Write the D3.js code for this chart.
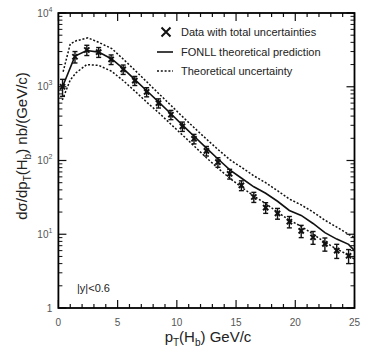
<!DOCTYPE html>
<html><head><meta charset="utf-8">
<script src="https://cdn.jsdelivr.net/npm/d3@7"></script>
<style>body{margin:0;background:#fff;} svg{display:block;font-family:"Liberation Sans",Arial,sans-serif;}</style>
</head><body>
<script>
// Data points (pT bin centre, cross section nb/(GeV/c), symmetric uncertainty)
const dataX = [0.35,1.4,2.4,3.4,4.45,5.47,6.45,7.45,8.45,9.5,10.47,11.45,12.5,13.47,14.46,15.45,16.5,17.5,18.5,19.5,20.5,21.5,22.5,23.5,24.5];
const dataY = [1000,2550,3150,2950,2350,1720,1210,850,600,418,290,197,135,95,66,46,32,23,19.2,14.8,11.1,9.1,7.4,6.0,5.1];
const dataErr = [260,450,500,450,350,250,170,120,85,60,42,29,20,14,10,7,5,3.8,3.2,2.6,2.1,1.8,1.5,1.3,1.1];

// FONLL central prediction
const fonllX = [0.35,1.4,2.4,3.4,4.5,5.5,6.5,7.5,8.5,9.5,10.5,11.5,12.5,13.5,14.5,15.5,16.5,17.5,18.5,19.5,20.5,21.5,22.5,23.5,24.5,25];
const fonllY = [1000,2600,3100,2950,2380,1750,1230,870,615,430,300,210,147,104,74,57,44,36,28,21,18,14,10.5,8.6,7.3,6];

// Theoretical uncertainty band (upper / lower)
const upperX = [0.4,1.0,1.5,2.5,3.4,4.5,5.5,6.5,7.5,8.5,9.5,10.5,11.5,12.5,13.5,14.5,15.5,16.5,17.5,18.5,19.5,20.5,21.5,22.5,23.5,24.5,25];
const upperY = [1600,3800,4200,4600,4000,3300,2350,1650,1150,800,560,390,275,195,140,102,80,62,50,39,30,25,20,15.5,12.5,10,9];
const lowerX = [0.33,1.0,1.5,2.4,3.4,4.5,5.5,6.5,7.5,8.5,9.5,10.5,11.5,12.5,13.5,14.5,15.5,16.5,17.5,18.5,19.5,20.5,21.5,22.5,23.5,24.5,25];
const lowerY = [660,1235,1550,2000,1950,1620,1200,860,610,440,310,220,155,109,78,57,43,33,26,20,15.5,12.8,10,7.8,6.3,5.2,4.6];

const xTicks = [0,5,10,15,20,25];
const yDecades = [1,10,100,1000,10000];
const yExponents = ["", "1", "2", "3", "4"];
const legendLabels = ["Data with total uncertainties","FONLL theoretical prediction","Theoretical uncertainty"];

const W = 381, H = 353;
const m = {l:58.4, r:354.5, t:13, b:308};
const svg = d3.select("body").append("svg").attr("width",W).attr("height",H);

const x = d3.scaleLinear().domain([0,25]).range([m.l,m.r]);
const y = d3.scaleLog().domain([1,10000]).range([m.b,m.t]);

// minor/major ticks
const xMinor = d3.range(0,26,1);
const yMinor = [];
yDecades.slice(0,4).forEach(d=>{for(let k=2;k<=9;k++) yMinor.push(d*k);});

const g = svg.append("g");
const tickCol = "#111";
xMinor.forEach(v=>{
  const len = (v%5===0)?8:4;
  g.append("line").attr("x1",x(v)).attr("x2",x(v)).attr("y1",m.b).attr("y2",m.b-len).attr("stroke",tickCol).attr("stroke-width",1.2);
  g.append("line").attr("x1",x(v)).attr("x2",x(v)).attr("y1",m.t).attr("y2",m.t+len).attr("stroke",tickCol).attr("stroke-width",1.2);
});
yDecades.forEach(v=>{
  g.append("line").attr("x1",m.l).attr("x2",m.l+8).attr("y1",y(v)).attr("y2",y(v)).attr("stroke",tickCol).attr("stroke-width",1.2);
  g.append("line").attr("x1",m.r).attr("x2",m.r-8).attr("y1",y(v)).attr("y2",y(v)).attr("stroke",tickCol).attr("stroke-width",1.2);
});
yMinor.forEach(v=>{
  g.append("line").attr("x1",m.l).attr("x2",m.l+4).attr("y1",y(v)).attr("y2",y(v)).attr("stroke",tickCol).attr("stroke-width",1);
  g.append("line").attr("x1",m.r).attr("x2",m.r-4).attr("y1",y(v)).attr("y2",y(v)).attr("stroke",tickCol).attr("stroke-width",1);
});
svg.append("rect").attr("x",m.l).attr("y",m.t).attr("width",m.r-m.l).attr("height",m.b-m.t)
  .attr("fill","none").attr("stroke","#000").attr("stroke-width",1.8);

const lblCol = "#555";
xTicks.forEach(v=>{
  svg.append("text").attr("x",x(v)).attr("y",m.b+18).attr("text-anchor","middle")
    .attr("font-size",10).attr("fill",lblCol).text(v);
});
yDecades.forEach((v,i)=>{
  const t = svg.append("text").attr("x",m.l-6).attr("y",y(v)+3.5).attr("text-anchor","end")
    .attr("font-size",10).attr("fill",lblCol);
  if(i===0){ t.text("1"); }
  else {
    t.append("tspan").text("10");
    t.append("tspan").attr("dy",-5).attr("font-size",7).text(yExponents[i]);
  }
});

const lineGen = (xs,ys)=> d3.line().x((d,i)=>x(xs[i])).y((d,i)=>y(ys[i]))(ys);
svg.append("path").attr("d",lineGen(upperX,upperY)).attr("fill","none").attr("stroke","#111").attr("stroke-width",1.5).attr("stroke-dasharray","2,1.8");
svg.append("path").attr("d",lineGen(lowerX,lowerY)).attr("fill","none").attr("stroke","#111").attr("stroke-width",1.5).attr("stroke-dasharray","2,1.8");
svg.append("path").attr("d",lineGen(fonllX,fonllY)).attr("fill","none").attr("stroke","#111").attr("stroke-width",1.6);

const pts = svg.append("g");
dataX.forEach((xv,i)=>{
  const cx = x(xv), yv = dataY[i], e = dataErr[i];
  const y1 = y(yv+e), y2 = y(yv-e), cy = y(yv);
  pts.append("line").attr("x1",cx).attr("x2",cx).attr("y1",y1).attr("y2",y2).attr("stroke","#111").attr("stroke-width",1.4);
  [y1,y2].forEach(yy=>pts.append("line").attr("x1",cx-2.5).attr("x2",cx+2.5).attr("y1",yy).attr("y2",yy).attr("stroke","#111").attr("stroke-width",1.4));
  const s=2.6;
  pts.append("path").attr("d",`M${cx-s},${cy-s}L${cx+s},${cy+s}M${cx-s},${cy+s}L${cx+s},${cy-s}`).attr("stroke","#111").attr("stroke-width",2);
});

const lg = svg.append("g");
const lx0 = 157, lx1 = 173, ltx = 181;
const ly = [32, 52, 71];
{ const cx=(lx0+lx1)/2+1, cy=ly[0], s=4.5;
  lg.append("path").attr("d",`M${cx-s},${cy-s}L${cx+s},${cy+s}M${cx-s},${cy+s}L${cx+s},${cy-s}`).attr("stroke","#111").attr("stroke-width",2); }
lg.append("line").attr("x1",lx0).attr("x2",lx1).attr("y1",ly[1]).attr("y2",ly[1]).attr("stroke","#111").attr("stroke-width",1.6);
lg.append("line").attr("x1",lx0).attr("x2",lx1).attr("y1",ly[2]).attr("y2",ly[2]).attr("stroke","#111").attr("stroke-width",1.6).attr("stroke-dasharray","2,1.8");
legendLabels.forEach((t,i)=>{
  lg.append("text").attr("x",ltx).attr("y",ly[i]+4).attr("font-size",11).attr("fill","#222").text(t);
});

svg.append("text").attr("x",77).attr("y",292).attr("font-size",11).attr("fill","#222").text("|y|<0.6");

const xt = svg.append("text").attr("x",208).attr("y",342).attr("text-anchor","middle").attr("font-size",15).attr("fill","#222");
xt.append("tspan").text("p");
xt.append("tspan").attr("dy",4).attr("font-size",10).text("T");
xt.append("tspan").attr("dy",-4).text("(H");
xt.append("tspan").attr("dy",4).attr("font-size",10).text("b");
xt.append("tspan").attr("dy",-4).text(") GeV/c");

const yt = svg.append("text").attr("transform","translate(27,146) rotate(-90)").attr("text-anchor","middle").attr("font-size",15).attr("fill","#222");
yt.append("tspan").text("dσ/dp");
yt.append("tspan").attr("dy",4).attr("font-size",10).text("T");
yt.append("tspan").attr("dy",-4).text("(H");
yt.append("tspan").attr("dy",4).attr("font-size",10).text("b");
yt.append("tspan").attr("dy",-4).text(") nb/(GeV/c)");
</script>
</body></html>
